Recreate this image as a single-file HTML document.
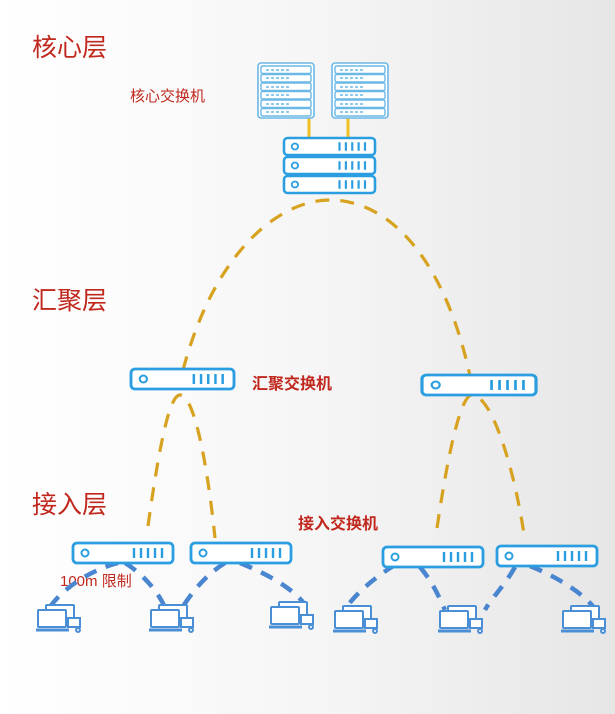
<!DOCTYPE html>
<html><head><meta charset="utf-8"><style>
html,body{margin:0;padding:0}
body{width:615px;height:709px;overflow:hidden;background:linear-gradient(90deg,#ffffff 0%,#f6f6f6 50%,#e6e6e6 100%)}
text{font-family:"Liberation Sans","Noto Sans CJK SC",sans-serif}
</style></head><body>
<svg width="615" height="709" viewBox="0 0 615 709" xmlns="http://www.w3.org/2000/svg">
<defs>
<g id="sw">
<rect x="0" y="0" width="100" height="20" rx="4" fill="#fff" stroke="#2a9ee0" stroke-width="2.8"/>
<circle cx="12" cy="10" r="3.5" fill="none" stroke="#2a9ee0" stroke-width="2"/>
<g stroke="#2a9ee0" stroke-width="2.4"><line x1="61" y1="5" x2="61" y2="15"/><line x1="68" y1="5" x2="68" y2="15"/><line x1="75" y1="5" x2="75" y2="15"/><line x1="82" y1="5" x2="82" y2="15"/><line x1="89" y1="5" x2="89" y2="15"/></g>
</g>
<g id="pc" fill="#fff" stroke="#4a8fd6" stroke-width="2">
<rect x="10" y="0" width="28" height="17" rx="1"/>
<rect x="2" y="5" width="28" height="17" rx="1"/>
<line x1="0" y1="25" x2="33" y2="25" stroke-width="3"/>
<rect x="32" y="13" width="12" height="9"/>
<circle cx="42" cy="25" r="2"/>
</g>
<g id="rack">
<rect x="0" y="0" width="56" height="55" rx="3" fill="#fff" stroke="#6ab8e6" stroke-width="1.6"/>
<g fill="none" stroke="#6ab8e6" stroke-width="1.4">
<rect x="3" y="3" width="50" height="7.5" rx="1.5"/><rect x="3" y="11.5" width="50" height="7.5" rx="1.5"/><rect x="3" y="20" width="50" height="7.5" rx="1.5"/><rect x="3" y="28.5" width="50" height="7.5" rx="1.5"/><rect x="3" y="37" width="50" height="7.5" rx="1.5"/><rect x="3" y="45.5" width="50" height="7.5" rx="1.5"/>
</g>
<g stroke="#6ab8e6" stroke-width="1.5" stroke-dasharray="3 2"><line x1="8" y1="7" x2="32" y2="7"/><line x1="8" y1="15" x2="32" y2="15"/><line x1="8" y1="24" x2="32" y2="24"/><line x1="8" y1="32" x2="32" y2="32"/><line x1="8" y1="41" x2="32" y2="41"/><line x1="8" y1="49" x2="32" y2="49"/></g>
</g>
</defs>

<g fill="#c0281e">
<text x="32" y="56" font-size="25">核心层</text>
<text x="32" y="309" font-size="25">汇聚层</text>
<text x="32" y="513" font-size="25">接入层</text>
<text x="130" y="101" font-size="15">核心交换机</text>
<text x="252" y="389" font-size="16" font-weight="bold">汇聚交换机</text>
<text x="298" y="529" font-size="16" font-weight="bold">接入交换机</text>
<text x="60" y="586" font-size="15">100m 限制</text>
</g>

<g fill="none" stroke="#d7a21f" stroke-width="3.2" stroke-dasharray="14 11">
<path d="M183 370 C 215 250, 280 200, 330 200 C 390 200, 445 260, 470 376"/>
<path d="M148 526 C 160 440, 170 395, 180 395 C 195 395, 208 470, 215 538"/>
<path d="M437 528 C 450 440, 462 395, 472 395 C 492 395, 515 470, 525 541"/>
</g>
<g stroke="#f0c020" stroke-width="3"><line x1="309" y1="118" x2="309" y2="138"/><line x1="348" y1="118" x2="348" y2="138"/></g>

<g fill="none" stroke="#4a85d0" stroke-width="4.5" stroke-dasharray="13 10">
<path d="M118 563 C 90 570, 60 590, 48 610"/>
<path d="M125 563 C 145 575, 160 595, 165 608"/>
<path d="M225 563 C 205 575, 190 595, 182 608"/>
<path d="M240 563 C 270 575, 295 590, 305 605"/>
<path d="M395 565 C 370 580, 350 600, 345 610"/>
<path d="M420 567 C 435 585, 440 600, 445 610"/>
<path d="M515 567 C 505 585, 490 600, 485 610"/>
<path d="M530 566 C 560 578, 585 595, 595 609"/>
</g>

<use href="#rack" x="258" y="63"/>
<use href="#rack" x="332" y="63"/>
<g transform="translate(284,138) scale(0.91,0.85)"><use href="#sw"/></g>
<g transform="translate(284,157) scale(0.91,0.85)"><use href="#sw"/></g>
<g transform="translate(284,176) scale(0.91,0.85)"><use href="#sw"/></g>

<g transform="translate(131,369) scale(1.03,1)"><use href="#sw"/></g>
<g transform="translate(422,375) scale(1.14,1)"><use href="#sw"/></g>
<use href="#sw" x="73" y="543"/>
<use href="#sw" x="191" y="543"/>
<use href="#sw" x="383" y="547"/>
<use href="#sw" x="497" y="546"/>

<use href="#pc" x="36" y="605"/>
<use href="#pc" x="149" y="605"/>
<use href="#pc" x="269" y="602"/>
<use href="#pc" x="333" y="606"/>
<use href="#pc" x="438" y="606"/>
<use href="#pc" x="561" y="606"/>
</svg>
</body></html>
